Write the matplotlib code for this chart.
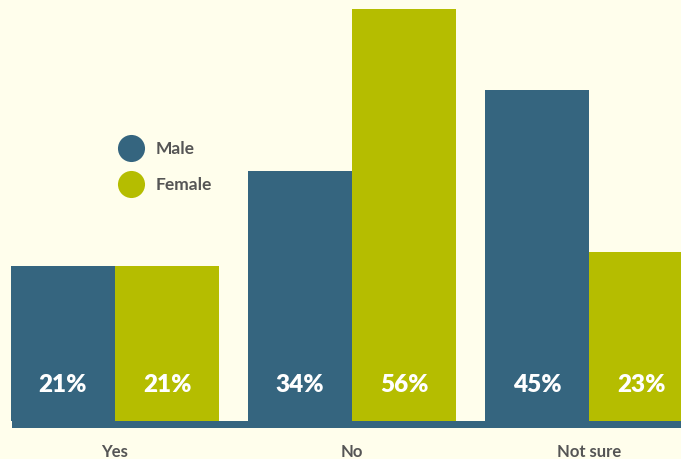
import numpy as np
import matplotlib.pyplot as plt

# --- Data ---
categories = ["Yes", "No", "Not sure"]
male = [21, 34, 45]
female = [21, 56, 23]

# --- Style ---
BG = "#fffeec"
MALE_C = "#35657f"
FEMALE_C = "#b5bd00"
TEXT_C = "#555555"
FONT = ["Lato", "DejaVu Sans"]

fig = plt.figure(figsize=(6.81, 4.60), dpi=100)
fig.patch.set_facecolor(BG)
ax = fig.add_axes([0, 0, 1, 1])
ax.set_facecolor(BG)

x = np.arange(len(categories))
w = 0.44

ax.bar(x - w / 2, male, width=w, color=MALE_C, linewidth=0)
ax.bar(x + w / 2, female, width=w, color=FEMALE_C, linewidth=0)

# dark baseline band under the bars
ax.axhspan(-1, 0, xmin=12 / 681, xmax=1, color=MALE_C, linewidth=0, zorder=3)

# value labels inside bars
for xi, m, f in zip(x, male, female):
    ax.text(xi - w / 2, 5.0, f"{m}%", color="white", fontsize=17.5,
            fontweight="heavy", ha="center", va="center", family=FONT, zorder=4)
    ax.text(xi + w / 2, 5.0, f"{f}%", color="white", fontsize=17.5,
            fontweight="heavy", ha="center", va="center", family=FONT, zorder=4)

# category labels
for xi, c in zip(x, categories):
    ax.text(xi, -4.1, c, color=TEXT_C, fontsize=12, fontweight="bold",
            ha="center", va="center", family=FONT)

ax.set_xlim(-0.485, 2.388)
ax.set_ylim(-5.16, 57.34)
ax.axis("off")

# --- Legend (manual) ---
for yy, lab, col in [(0.677, "Male", MALE_C), (0.597, "Female", FEMALE_C)]:
    ax.scatter([0.193], [yy], s=380, color=col, transform=ax.transAxes,
               linewidth=0, clip_on=False)
    ax.text(0.229, yy, lab, transform=ax.transAxes, color=TEXT_C,
            fontsize=12.5, fontweight="bold", va="center", ha="left", family=FONT)

fig.savefig("out.png", dpi=100, facecolor=BG)
